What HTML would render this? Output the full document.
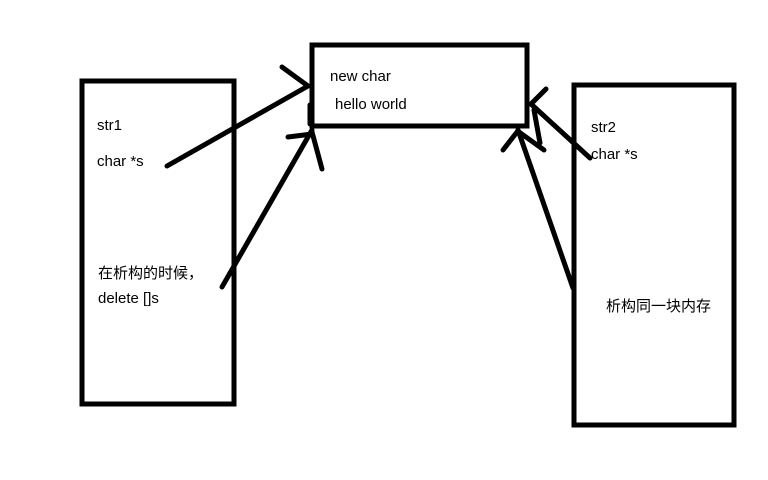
<!DOCTYPE html>
<html><head><meta charset="utf-8"><style>
body{margin:0;width:768px;height:480px;background:#fff;overflow:hidden;position:relative;font-family:"Liberation Sans","Noto Sans CJK SC",sans-serif;}
.t{position:absolute;font-size:15px;color:#000;white-space:nowrap;}
</style></head><body>
<svg width="768" height="480" style="position:absolute;left:0;top:0" stroke="#000" fill="none" stroke-linecap="round">
<rect x="82" y="81" width="152" height="323" stroke-width="5"/>
<rect x="312" y="45" width="215" height="81" stroke-width="5"/>
<rect x="574" y="85" width="160" height="340" stroke-width="5"/>
<g stroke-width="5">
<line x1="167" y1="166" x2="308" y2="86"/>
<line x1="282" y1="67" x2="308" y2="86"/>
<line x1="310" y1="105" x2="310" y2="124"/>
<line x1="222" y1="287" x2="312" y2="130"/>
<line x1="288" y1="137" x2="312" y2="134"/>
<line x1="312" y1="132" x2="322" y2="169"/>
<line x1="590" y1="158" x2="531" y2="104"/>
<line x1="546" y1="89" x2="531" y2="104"/>
<line x1="534" y1="110" x2="540" y2="143"/>
<line x1="573" y1="288" x2="518" y2="130"/>
<line x1="517" y1="132" x2="503" y2="150"/>
<line x1="519" y1="132" x2="544" y2="150"/>
</g>
</svg>
<div class="t" style="left:330px;top:68px">new char</div>
<div class="t" style="left:335px;top:96px">hello world</div>
<div class="t" style="left:97px;top:117px">str1</div>
<div class="t" style="left:97px;top:153px">char *s</div>
<div class="t" style="left:98px;top:262px">在析构的时候，</div>
<div class="t" style="left:98px;top:290px">delete []s</div>
<div class="t" style="left:591px;top:119px">str2</div>
<div class="t" style="left:591px;top:146px">char *s</div>
<div class="t" style="left:606px;top:295px">析构同一块内存</div>
</body></html>
